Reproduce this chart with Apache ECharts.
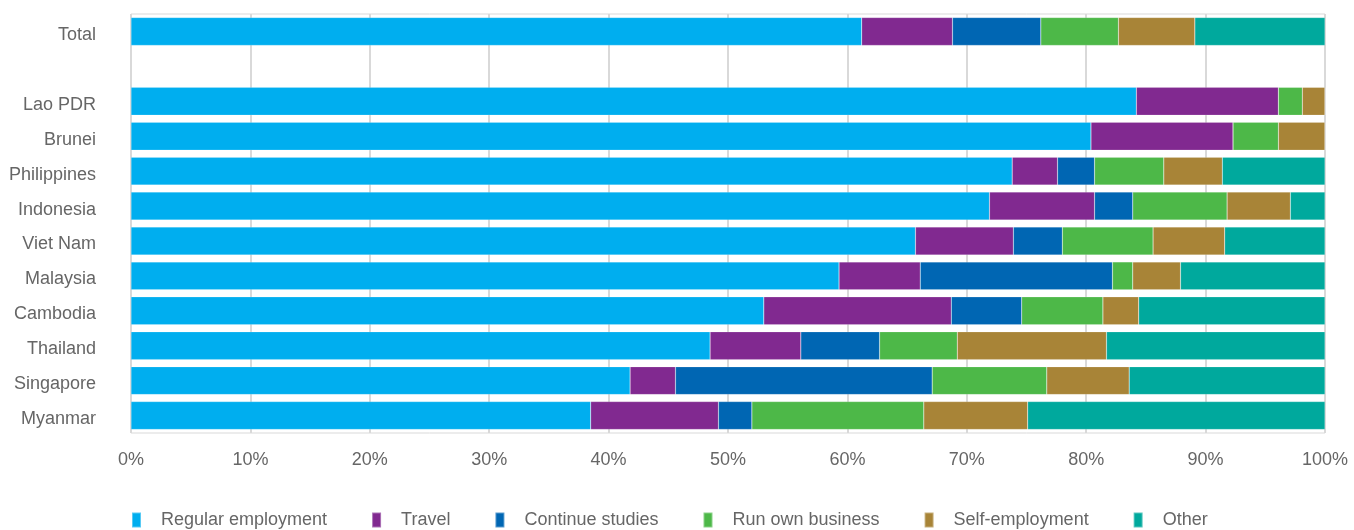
<!DOCTYPE html>
<html>
<head>
<meta charset="utf-8">
<script src="https://cdn.jsdelivr.net/npm/echarts@6/dist/echarts.min.js"></script>
<style>html,body{margin:0;padding:0;background:#fff}#c{width:1354px;height:530px}</style>
</head>
<body>
<div id="c"></div>
<script>
const categories = ['Total', '', 'Lao PDR', 'Brunei', 'Philippines', 'Indonesia', 'Viet Nam', 'Malaysia', 'Cambodia', 'Thailand', 'Singapore', 'Myanmar'];
const seriesNames = ['Regular employment', 'Travel', 'Continue studies', 'Run own business', 'Self-employment', 'Other'];
const regularEmployment = [61.2, null, 84.2, 80.4, 73.8, 71.9, 65.7, 59.3, 53.0, 48.5, 41.8, 38.5];
const travel            = [7.6, null, 11.9, 11.9, 3.8, 8.8, 8.2, 6.8, 15.7, 7.6, 3.8, 10.7];
const continueStudies   = [7.4, null, 0, 0, 3.1, 3.2, 4.1, 16.1, 5.9, 6.6, 21.5, 2.8];
const runOwnBusiness    = [6.5, null, 2.0, 3.8, 5.8, 7.9, 7.6, 1.7, 6.8, 6.5, 9.6, 14.4];
const selfEmployment    = [6.4, null, 1.9, 3.9, 4.9, 5.3, 6.0, 4.0, 3.0, 12.5, 6.9, 8.7];
const other             = [10.9, null, 0, 0, 8.6, 2.9, 8.4, 12.1, 15.6, 18.3, 16.4, 24.9];
const xTicks = [0, 10, 20, 30, 40, 50, 60, 70, 80, 90, 100];

const colors = ['#00AEEF', '#812990', '#0066B3', '#4DB848', '#A88437', '#00A99D'];
const allData = [regularEmployment, travel, continueStudies, runOwnBusiness, selfEmployment, other];
const font = 'Liberation Sans';
const txt = '#666666';

const chart = echarts.init(document.getElementById('c'), null, {renderer: 'canvas'});
chart.setOption({
  animation: false,
  color: colors,
  grid: {left: 131, right: 29, top: 14, bottom: 97, containLabel: false, show: true, borderColor: '#d9d9d9', borderWidth: 1},
  legend: {
    top: 506, left: 126,
    itemWidth: 9, itemHeight: 15, itemGap: 44,
    icon: 'rect',
    data: seriesNames,
    textStyle: {fontFamily: font, fontSize: 18, color: txt, padding: [0, 0, 0, 15]}
  },
  xAxis: {
    type: 'value', min: xTicks[0], max: xTicks[xTicks.length - 1], interval: 10,
    axisLine: {show: false}, axisTick: {show: false},
    splitLine: {show: true, lineStyle: {color: '#d9d9d9', width: 2}},
    axisLabel: {formatter: v => v + '%', fontFamily: font, fontSize: 18, color: txt, margin: 18}
  },
  yAxis: {
    type: 'category', inverse: true, data: categories,
    axisLine: {show: false}, axisTick: {show: false},
    axisLabel: {
      formatter: v => '{a|' + v + '}',
      margin: 35,
      rich: {a: {fontFamily: font, fontSize: 18, color: txt, padding: [7, 0, 0, 0]}}
    }
  },
  series: seriesNames.map((n, i) => ({
    name: n, type: 'bar', stack: 'all', data: allData[i],
    barCategoryGap: '20%',
    itemStyle: {color: colors[i], borderColor: 'rgba(255,255,255,0.35)', borderWidth: 0.5}
  }))
});
</script>
</body>
</html>
